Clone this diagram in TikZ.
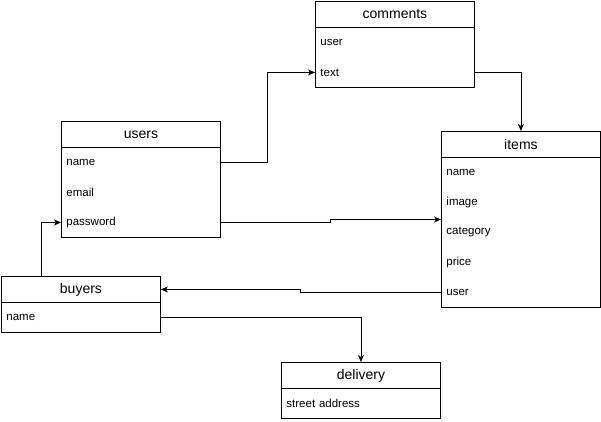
\documentclass[tikz,border=0pt]{standalone}
\usepackage{fontspec}
\setmainfont{Liberation Sans}
\usepackage{tikz}
\usetikzlibrary{arrows.meta,positioning,calc}

\tikzset{
  tblhead/.style={draw, anchor=north west, minimum width=159pt, minimum height=26pt,
    inner sep=0pt, font=\fontsize{14}{16}\selectfont},
  tblrow/.style={anchor=north west, minimum width=159pt, minimum height=30pt, inner sep=0pt,
    text width=149pt, align=left, font=\fontsize{11.5}{13}\selectfont},
  link/.style={-{Stealth[length=7pt,width=6pt,inset=2pt]}, line width=0.9pt}
}

\begin{document}
\begin{tikzpicture}[x=1pt, y=-1pt, line width=0.9pt]
  \useasboundingbox (0,0) rectangle (601,422);

  % tables
  \node[tblhead] (comments) at (315,1) {comments};
  \foreach \f [count=\k] in {user,text}
    \node[tblrow] (comments-\k) at (315,{27+30*(\k-1)}) {\f};
  \draw (comments.south west) rectangle (comments-2.south east);

  \node[tblhead] (users) at (61,121) {users};
  \foreach \f [count=\k] in {name,email,password}
    \node[tblrow] (users-\k) at (61,{147+30*(\k-1)}) {\f};
  \draw (users.south west) rectangle (users-3.south east);

  \node[tblhead] (items) at (441,131) {items};
  \foreach \f [count=\k] in {name,image,category,price,user}
    \node[tblrow] (items-\k) at (441,{157+30*(\k-1)}) {\f};
  \draw (items.south west) rectangle (items-5.south east);

  \node[tblhead] (buyers) at (1,276) {buyers};
  \node[tblrow] (buyers-1) at (1,302) {name};
  \draw (buyers.south west) rectangle (buyers-1.south east);

  \node[tblhead] (delivery) at (281,362) {delivery};
  \node[tblrow] (delivery-1) at (281,388) {street address};
  \draw (delivery.south west) rectangle (delivery-1.south east);

  % links
  \draw[link] (users-1.east) -- ++(47,0) |- (comments-2.west);
  \draw[link] (comments-2.east) -| (items.north);
  \draw[link] (users-3.east) -- ++(110,0) -- ++(0,-3) coordinate (jog)
    -- (jog -| items.west);
  \draw[link] (items-5.west) -- ++(-141,0) |- (buyers.east);
  \draw[link] ([xshift=40pt]buyers.north west) |- (users-3.west);
  \draw[link] (buyers-1.east) -| (delivery.north);
\end{tikzpicture}
\end{document}
